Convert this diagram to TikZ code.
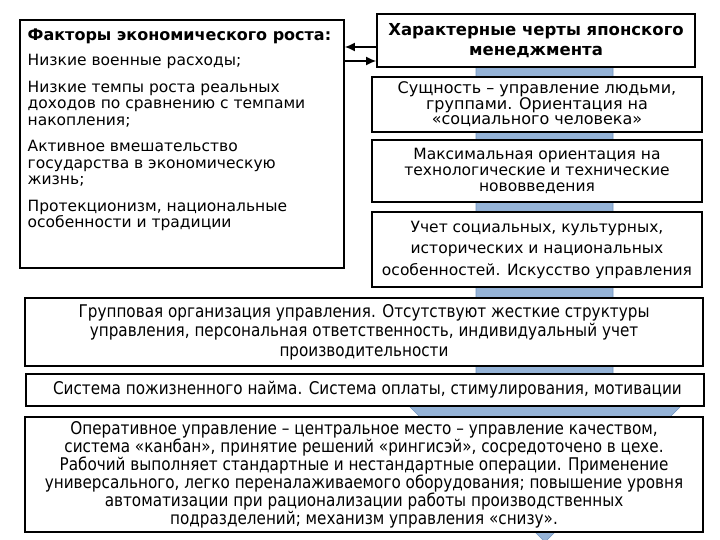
\documentclass[tikz,border=0pt]{standalone}
\usepackage{fontspec}
\setmainfont{DejaVu Sans}
\newfontfamily\narrowfont[FakeStretch=0.87]{DejaVu Sans}
\usetikzlibrary{arrows.meta}
\definecolor{shaft}{RGB}{149,179,215}
\definecolor{shaftedge}{RGB}{112,146,190}
\tikzset{
  box/.style={draw, line width=1.8pt, fill=white, inner sep=0pt, align=center},
  lowbox/.style={box, minimum width=678pt,
    font=\narrowfont\fontsize{17.5}{19.5}\selectfont},
  link/.style={->, line width=1.4pt}
}
\begin{document}
\begin{tikzpicture}[x=1pt, y=-1pt, >={Latex[length=10pt,width=9pt]},
  font=\fontsize{15.5}{16.5}\selectfont]
\useasboundingbox (0,0) rectangle (720,540);
% blue arrow behind the boxes
\filldraw[fill=shaft, draw=shaftedge, line width=0.6pt]
  (476,60) -- (613,60) -- (613,390) -- (697,390) -- (545,542)
  -- (393,390) -- (476,390) -- cycle;

\node[box, minimum width=324pt, minimum height=248pt] (factors) at (182,144) {};
\node[anchor=north west, inner sep=0pt, align=left] (factorslist) at (27.5,29)
  {{\bfseries\fontsize{16}{16.5}\selectfont Факторы экономического роста:}\\[8.5pt]
   Низкие военные расходы;\\[10pt]
   Низкие темпы роста реальных\\
   доходов по сравнению с темпами\\
   накопления;\\[10pt]
   Активное вмешательство\\
   государства в экономическую\\
   жизнь;\\[10pt]
   Протекционизм, национальные\\
   особенности и традиции};

\node[box, minimum width=318pt, minimum height=53pt,
  font=\bfseries\fontsize{16.5}{20}\selectfont] (head) at (536,40.5)
  {Характерные черты японского\\менеджмента};
\node[box, minimum width=330pt, minimum height=55pt,
  font=\fontsize{16}{15.5}\selectfont] (essence) at (537,104.5)
  {Сущность – управление людьми,\\группами. Ориентация на\\«социального человека»};
\node[box, minimum width=330pt, minimum height=62pt,
  font=\fontsize{15.5}{16}\selectfont] (techno) at (537,171)
  {Максимальная ориентация на\\технологические и технические\\нововведения};
\node[box, minimum width=330pt, minimum height=75pt,
  font=\fontsize{15.5}{21.5}\selectfont] (culture) at (537,249.5)
  {Учет социальных, культурных,\\исторических и национальных\\особенностей. Искусство управления};

\node[lowbox, minimum height=68pt] (group) at (364,332)
  {Групповая организация управления. Отсутствуют жесткие структуры\\
   управления, персональная ответственность, индивидуальный учет\\
   производительности};
\node[lowbox, minimum height=32pt, anchor=west] (hire) at (25,390)
  {\hspace{5pt}Система пожизненного найма. Система оплаты, стимулирования, мотивации};
\node[lowbox, minimum height=115pt, font=\narrowfont\fontsize{17.5}{18}\selectfont]
  (oper) at (364,474.5)
  {Оперативное управление – центральное место – управление качеством,\\
   система «канбан», принятие решений «рингисэй», сосредоточено в цехе.\\
   Рабочий выполняет стандартные и нестандартные операции. Применение\\
   универсального, легко переналаживаемого оборудования; повышение уровня\\
   автоматизации при рационализации работы производственных\\
   подразделений; механизм управления «снизу».};

\draw[link] ([yshift=-6.5pt]head.west) -- ([yshift=-6.5pt]head.west -| factors.east);
\draw[link] ([yshift=-20.5pt]head.west -| factors.east) -- ([yshift=-20.5pt]head.west);
\end{tikzpicture}
\end{document}
